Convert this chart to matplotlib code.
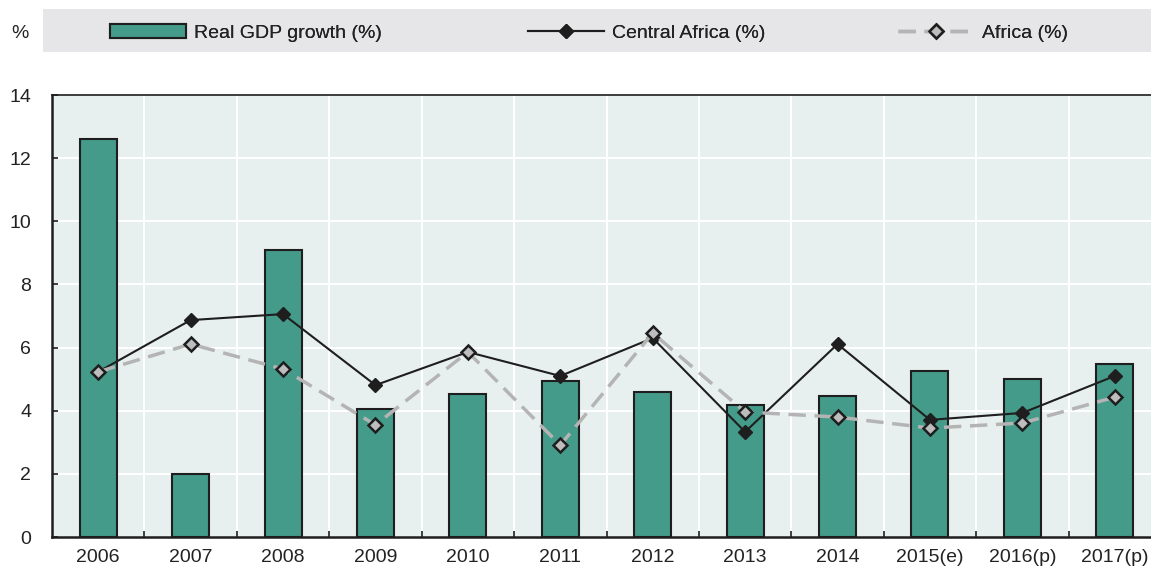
import numpy as np
import matplotlib.pyplot as plt
from matplotlib.patches import Rectangle
from matplotlib.lines import Line2D

plt.rcParams['font.family'] = ['Liberation Sans Narrow', 'Liberation Sans', 'DejaVu Sans']

# data
years = ["2006", "2007", "2008", "2009", "2010", "2011", "2012", "2013",
         "2014", "2015(e)", "2016(p)", "2017(p)"]
gdp_growth = [12.6, 2.0, 9.1, 4.05, 4.53, 4.94, 4.59, 4.18, 4.47, 5.26, 5.0, 5.48]
central_africa = [5.23, 6.87, 7.06, 4.81, 5.86, 5.1, 6.3, 3.33, 6.11, 3.71, 3.93, 5.1]
africa = [5.23, 6.11, 5.32, 3.55, 5.86, 2.91, 6.46, 3.96, 3.80, 3.45, 3.61, 4.43]

bar_col = "#449B89"
dark = "#1E1E1E"
grey = "#B4B4B4"
txt = "#222222"
fs = 14

fig = plt.figure(figsize=(11.51, 5.70), dpi=100)
ax = fig.add_axes([52/1151, 33/570, 1109/1151, 442/570])
ax.set_facecolor("#E8F0EF")

x = np.arange(len(years))
ax.bar(x, gdp_growth, width=0.4, color=bar_col, edgecolor=dark, linewidth=1.5, zorder=3)
ax.plot(x, central_africa, color=dark, lw=1.5, marker="D", ms=7,
        mfc=dark, mec=dark, zorder=4)
ax.plot(x, africa, color=grey, lw=2.5, ls=(0, (5, 2.5)), marker="D", ms=7,
        mfc="#BDBDBD", mec=dark, mew=1.8, zorder=5)

ax.set_xlim(-0.5, len(years) - 0.5)
ax.set_ylim(0, 14)
ax.set_yticks(np.arange(0, 15, 2))
ax.set_xticks(x)
ax.set_xticklabels(years)
ax.set_xticks(np.arange(0.5, len(years) - 0.5, 1), minor=True)

ax.grid(False)
for yv in range(2, 14, 2):
    ax.axhline(yv, color="white", lw=1.5, zorder=1)
for xv in np.arange(0.5, len(years) - 0.5, 1):
    ax.axvline(xv, color="white", lw=1.5, zorder=1)

ax.tick_params(axis="x", which="major", length=0, pad=9, labelsize=fs, colors=txt)
ax.tick_params(axis="x", which="minor", direction="in", length=4, width=1.2, color=dark)
ax.tick_params(axis="y", direction="in", length=4, width=1.2, color=dark, pad=15,
               labelsize=fs, labelcolor=txt)

for s in ["left", "bottom", "top"]:
    ax.spines[s].set_color(dark)
    ax.spines[s].set_linewidth(1.8)
ax.spines["top"].set_linewidth(1.2)
ax.spines["right"].set_visible(False)

# legend band
fig.patches.append(Rectangle((43/1151, 518/570), 1108/1151, 43/570,
                             transform=fig.transFigure, facecolor="#E6E6E8",
                             edgecolor="none", zorder=0))
fig.text(20/1151, 537/570, "%", fontsize=fs, ha="center", va="center", color=txt)

h_bar = Rectangle((0, 0), 1, 1, facecolor=bar_col, edgecolor=dark, linewidth=1.5)
h_ca = Line2D([], [], color=dark, lw=1.5, marker="D", ms=7, mfc=dark, mec=dark)
h_af = Line2D([], [], color=grey, lw=2.5, ls=(0, (5, 2.5)), marker="D", ms=7,
              mfc="#BDBDBD", mec=dark, mew=1.8)

specs = [(h_bar, "Real GDP growth (%)", 110), (h_ca, "Central Africa (%)", 528),
         (h_af, "Africa (%)", 898)]
for h, lab, px in specs:
    leg = fig.legend([h], [lab], loc="center left", bbox_to_anchor=(px/1151, 537/570),
                     frameon=False, fontsize=fs, handlelength=3.9, handleheight=0.75,
                     handletextpad=0.4, borderpad=0, borderaxespad=0)
    for t in leg.get_texts():
        t.set_color(txt)
    fig.add_artist(leg)

fig.savefig("out.png", dpi=100)
